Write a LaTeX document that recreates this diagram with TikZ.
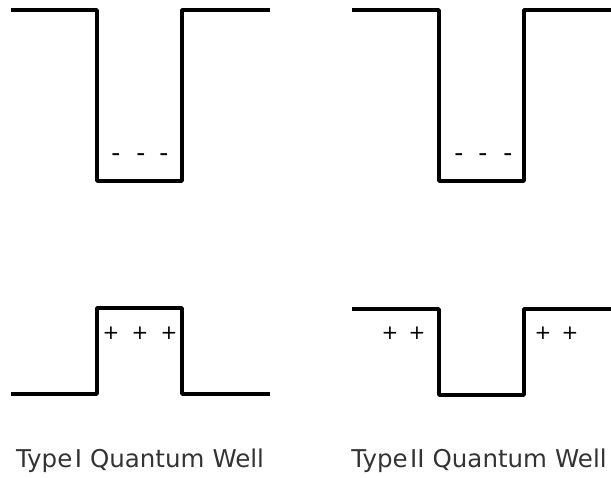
\documentclass[tikz,border=0pt]{standalone}
\usepackage{fontspec}
\setmainfont{DejaVu Sans}

\begin{document}
\begin{tikzpicture}[x=1pt,y=-1pt,
    band/.style={line width=3.5pt, line join=round, line cap=rect},
    carrier/.style={font=\fontsize{20}{20}\selectfont, inner sep=0pt},
    electron/.style={carrier, font=\fontsize{25}{25}\selectfont},
    caption/.style={font=\fontsize{24.5}{25}\selectfont, text=black!80}]
    \useasboundingbox (0,0) rectangle (611,478);

    % Type I
    \draw[band] (13,10) -- (97,10) -- (97,181) -- (182,181) -- (182,10) -- (268,10);
    \draw[band] (13,394) -- (97,394) -- (97,308) -- (182,308) -- (182,394) -- (268,394);
    \node[electron] (eI1) at (116,158) {-};
    \node[electron] (eI2) at (141,158) {-};
    \node[electron] (eI3) at (164,158) {-};
    \node[carrier] (hI1) at (111,333) {+};
    \node[carrier] (hI2) at (140,333) {+};
    \node[carrier] (hI3) at (169,333) {+};

    % Type II
    \draw[band] (354,10) -- (439,10) -- (439,181) -- (524,181) -- (524,10) -- (609,10);
    \draw[band] (354,309) -- (439,309) -- (439,395) -- (524,395) -- (524,309) -- (609,309);
    \node[electron] (eII1) at (459,158) {-};
    \node[electron] (eII2) at (483,158) {-};
    \node[electron] (eII3) at (508,158) {-};
    \node[carrier] (hII1) at (390,333) {+};
    \node[carrier] (hII2) at (417,333) {+};
    \node[carrier] (hII3) at (543,333) {+};
    \node[carrier] (hII4) at (570,333) {+};

    % Captions
    \node[caption] (typeI) at (140,461) {Type\hspace{0.1em}I\hspace{0.33em}Quantum\hspace{0.33em}Well};
    \node[caption] (typeII) at (479,461) {Type\hspace{0.1em}II\hspace{0.33em}Quantum\hspace{0.33em}Well};
\end{tikzpicture}
\end{document}
